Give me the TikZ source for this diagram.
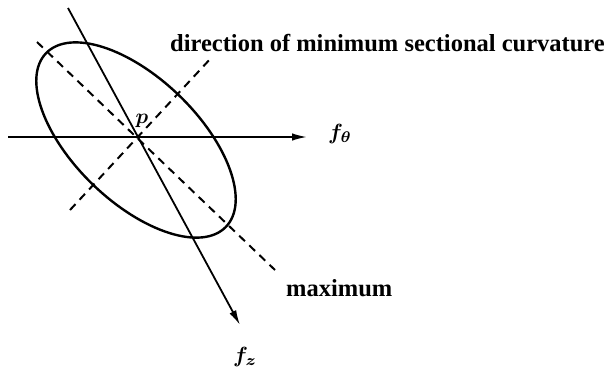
\documentclass[tikz,border=0pt]{standalone}
\usepackage{bm}
\usepackage{graphicx}
\usepackage{fontspec}
\newfontfamily\lblfont{Liberation Serif}
\usetikzlibrary{arrows.meta}
\begin{document}
\begin{tikzpicture}[x=1pt,y=-1pt,
  axis/.style={line width=1.8pt,-{Latex[length=15pt,width=7.5pt]}},
  dashline/.style={line width=2pt,dash pattern=on 8pt off 6pt},
  lbl/.style={inner sep=0pt,font=\lblfont\bfseries},
  mlbl/.style={inner sep=0pt}]
\useasboundingbox (0,0) rectangle (613,376);
% key points
\coordinate (P) at (137,137);
\coordinate (hL) at (8,137);
\coordinate (hR) at (307,137);
\coordinate (zT) at (68,8);
\coordinate (zB) at (240,325);
\coordinate (mxA) at (37,42);
\coordinate (mxB) at (275,270);
\coordinate (mnA) at (70,210);
\coordinate (mnB) at (212,57);
% ellipse
\draw[line width=2.4pt,rotate around={-44:(136,140)}] (136,140) ellipse [x radius=125, y radius=62];
% axes
\draw[axis] (hL) -- (hR);
\draw[axis] (zT) -- (zB);
\draw[dashline] (mxA) -- (mxB);
\draw[dashline] (mnA) -- (mnB);
% labels
\node[mlbl] (p) at (142,121) {\scalebox{2.1}{$\bm{p}$}};
\node[mlbl] (fth) at (340,134) {\scalebox{2.2}{$\bm{f_\theta}$}};
\node[mlbl] (fz) at (245,357) {\scalebox{2.2}{$\bm{f_z}$}};
\node[lbl,anchor=west] (dir) at (170,43) {\fontsize{24.5}{24.5}\selectfont direction of minimum sectional curvature};
\node[lbl,anchor=west] (mx) at (286,288) {\fontsize{24.5}{24.5}\selectfont maximum};
\end{tikzpicture}
\end{document}
